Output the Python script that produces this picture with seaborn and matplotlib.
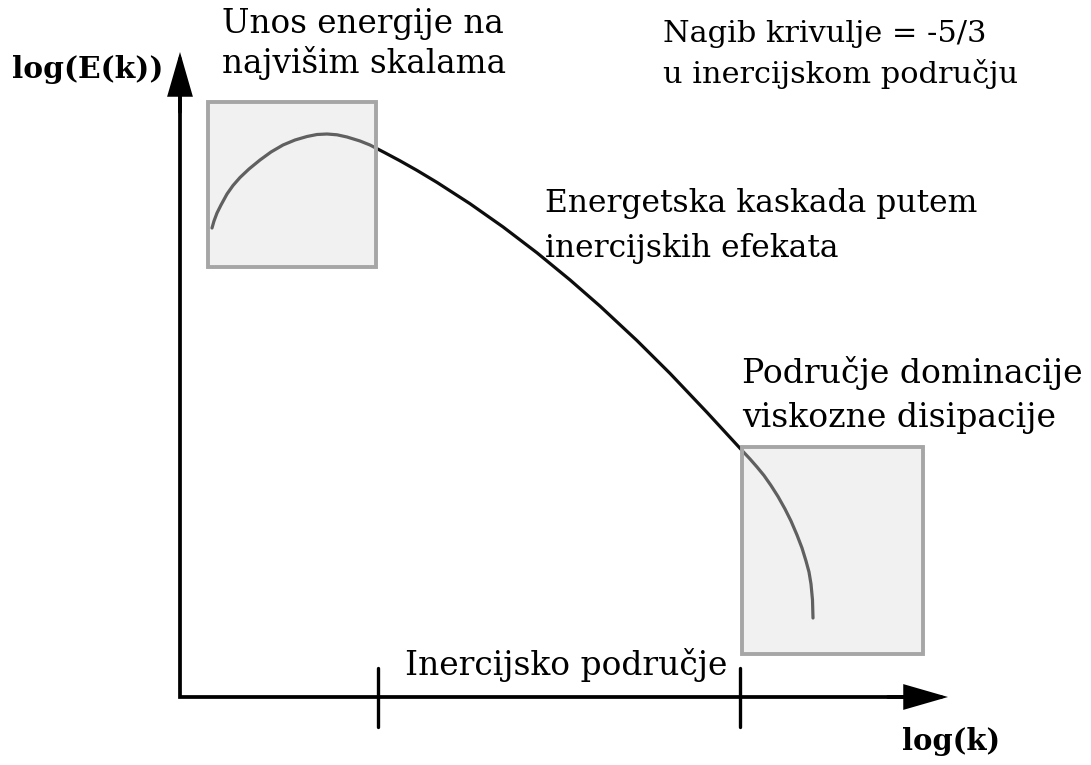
import numpy as np
import pandas as pd
import matplotlib
matplotlib.use("Agg")
import matplotlib.pyplot as plt
import seaborn as sns
from matplotlib.patches import Rectangle

# ---- data (schematic energy spectrum, axis origin at (0, 0)) ----
log_k = [32, 34, 37, 41, 47, 53, 60, 69, 80, 91, 103, 115, 127, 137, 147, 157,
         167, 180, 190, 205, 220, 237, 257, 290, 323, 357, 390, 420, 457, 490,
         527, 563, 570, 577, 584, 591, 598, 605, 611, 617, 622, 626, 629, 631,
         632.5, 633]
log_E = [469, 476, 484, 492, 503, 511.5, 519.5, 528, 537, 545, 552, 557, 560.5,
         562.5, 563, 562.2, 560, 556, 552, 544.2, 536.2, 526.6, 514.6, 493.3, 470.1,
         444.2, 417.1, 390.9, 356.4, 323.6, 284.6, 245.5, 238, 230, 221.5, 211.5,
         200.5, 188, 176, 162, 149, 136, 125, 113, 97, 79]

# regions (boxes) : [x0, x1, y0, y1]
forcing_box = [28, 196, 430, 595]
dissipation_box = [562, 743, 43, 250]
# inertial range bounds on the k axis
inertial_bounds = [198, 560]
axis_ends = [768, 645]

labels = {
    "forcing": ["Unos energije na", "najvišim skalama"],
    "slope": ["Nagib krivulje = -5/3", "u inercijskom području"],
    "cascade": ["Energetska kaskada putem", "inercijskih efekata"],
    "dissip": ["Područje dominacije", "viskozne disipacije"],
    "inertial": ["Inercijsko područje"],
}
ylabel = "log(E(k))"
xlabel = "log(k)"

sns.set_theme(style="white")
plt.rcParams["font.family"] = ["DejaVu Serif"]

fig = plt.figure(figsize=(10.91, 7.65), dpi=100)
ax = fig.add_axes([0, 0, 1, 1])

df = pd.DataFrame({"log_k": log_k, "log_E": log_E})
sns.lineplot(data=df, x="log_k", y="log_E", sort=False, estimator=None,
             color="#0d0d0d", lw=2.3, ax=ax, zorder=2)
ax.lines[-1].set_solid_joinstyle("round")
ax.lines[-1].set_solid_capstyle("round")
ax.set_xlim(-180, 911)
ax.set_ylim(-68, 697)
ax.axis("off")

for bx in (forcing_box, dissipation_box):
    ax.add_patch(Rectangle((bx[0], bx[2]), bx[1] - bx[0], bx[3] - bx[2],
                           facecolor=(0.867, 0.867, 0.867, 0.4),
                           edgecolor="none", zorder=3))
    ax.add_patch(Rectangle((bx[0], bx[2]), bx[1] - bx[0], bx[3] - bx[2],
                           facecolor="none", edgecolor="#a6a6a6", lw=2.8, zorder=4))

# axes drawn as one L-shaped polyline plus arrow heads
ax.plot([0, 0, axis_ends[0] - 30], [axis_ends[1] - 30, 0, 0], color="black",
        lw=2.7, solid_joinstyle="miter", solid_capstyle="butt", zorder=5)
arrow_kw = dict(arrowstyle="-|>,head_length=26,head_width=7.5", lw=2.7,
                color="black", shrinkA=0, shrinkB=0, mutation_scale=1,
                joinstyle="miter")
ax.annotate("", xy=(axis_ends[0], 0), xytext=(axis_ends[0] - 60, 0),
            arrowprops=arrow_kw, zorder=5)
ax.annotate("", xy=(0, axis_ends[1]), xytext=(0, axis_ends[1] - 60),
            arrowprops=arrow_kw, zorder=5)
for b in inertial_bounds:
    ax.plot([b, b], [-30, 29], color="black", lw=2.4, zorder=5)

# text placement: (x_left, baseline_y, target_width_px)
layout = {
    "forcing": [(42, 664, 281), (42, 624, None)],
    "slope": [(483, 655, None), (483, 614, 354)],
    "cascade": [(365, 485, 433), (365, 440, None)],
    "dissip": [(562, 314, 340), (562, 270, None)],
    "inertial": [(225, 22, 322)],
}
texts = []
for key, lines in labels.items():
    group = []
    for line, (x, y, w) in zip(lines, layout[key]):
        t = ax.text(x, y, line, fontsize=20, ha="left", va="baseline",
                    color="black", zorder=6)
        group.append((t, w))
    texts.append(group)
t_y = ax.text(-168, 619, ylabel, fontsize=20, fontweight="bold", ha="left",
              va="baseline", color="black", zorder=6)
t_x = ax.text(722, -53, xlabel, fontsize=20, fontweight="bold", ha="left",
              va="baseline", color="black", zorder=6)
texts.append([(t_y, 151)])
texts.append([(t_x, 98)])

fig.canvas.draw()
r = fig.canvas.get_renderer()
for group in texts:
    scale = None
    for t, w in group:
        if w is not None:
            scale = w / t.get_window_extent(r).width
            break
    for t, _ in group:
        t.set_fontsize(t.get_fontsize() * scale)

fig.savefig("out.png", dpi=100, facecolor="white")
